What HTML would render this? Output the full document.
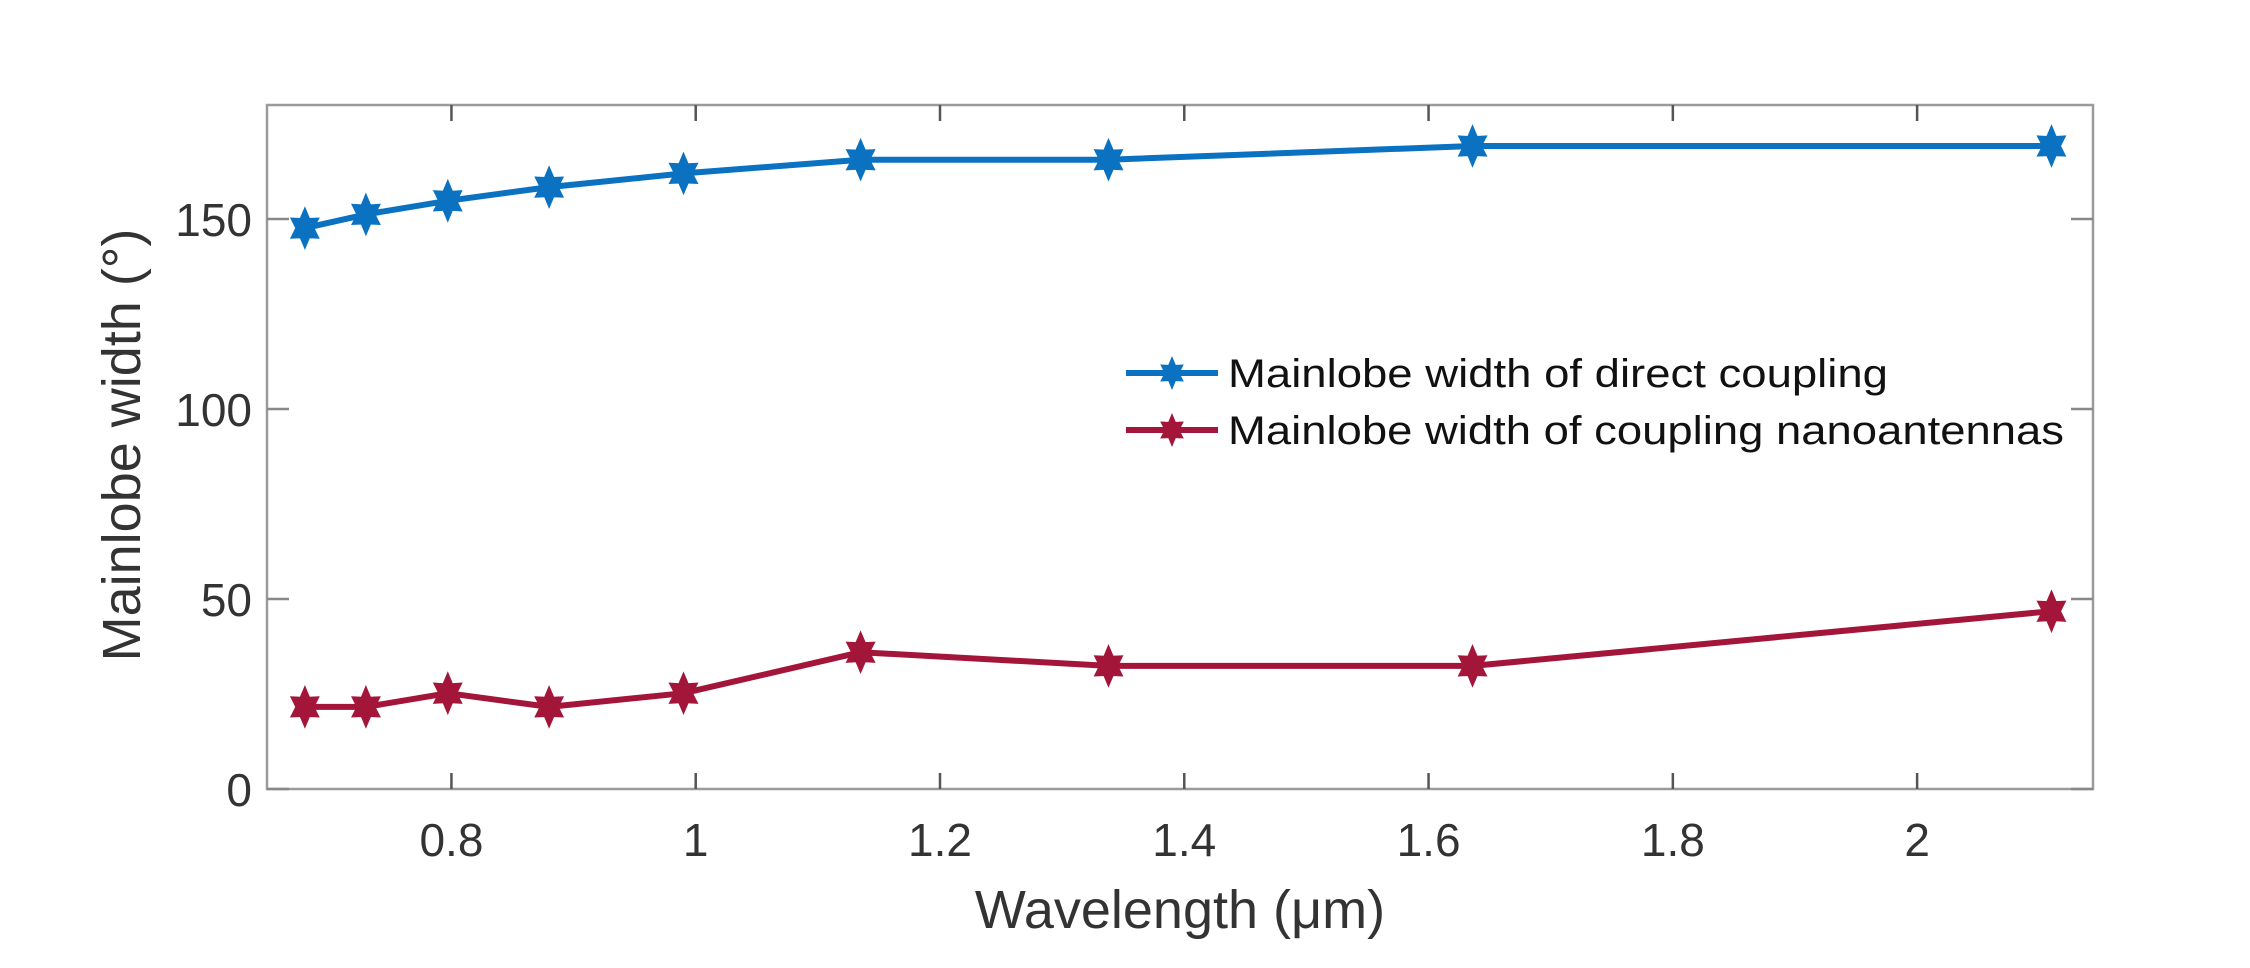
<!DOCTYPE html>
<html><head><meta charset="utf-8"><style>
html,body{margin:0;padding:0;background:#fff;}
svg{display:block;font-family:"Liberation Sans",Arial,sans-serif;}
</style></head><body>
<svg id="chart" width="2250" height="968" viewBox="0 0 2250 968" xmlns="http://www.w3.org/2000/svg">
<g id="axes"></g>
<g id="series"></g>
<g id="legend"></g>
</svg>
<script>
const wavelengths = [0.68, 0.73, 0.797, 0.88, 0.99, 1.135, 1.338, 1.636, 2.11];
const directCoupling = [147.6, 151.2, 154.8, 158.4, 162, 165.6, 165.6, 169.2, 169.2];
const nanoantennaCoupling = [21.6, 21.6, 25.2, 21.6, 25.2, 36, 32.4, 32.4, 46.8];
const xTicks = [0.8, 1, 1.2, 1.4, 1.6, 1.8, 2];
const xTickLabels = ["0.8", "1", "1.2", "1.4", "1.6", "1.8", "2"];
const yTicks = [0, 50, 100, 150];
const yTickLabels = ["0", "50", "100", "150"];

const NS = "http://www.w3.org/2000/svg";
const L = 267, R = 2093, T = 105, B = 789;
const xMin = 0.649, xMax = 2.144, yMin = 0, yMax = 180;
const sx = v => L + (v - xMin) / (xMax - xMin) * (R - L);
const sy = v => B - (v - yMin) / (yMax - yMin) * (B - T);
function mk(tag, attrs, parent) {
  const e = document.createElementNS(NS, tag);
  for (const k in attrs) e.setAttribute(k, attrs[k]);
  parent.appendChild(e);
  return e;
}
function star(cx, cy, r) {
  let p = [];
  for (let i = 0; i < 12; i++) {
    const a = -Math.PI / 2 + i * Math.PI / 6;
    const rr = i % 2 ? r * 0.55 : r;
    p.push((cx + rr * Math.cos(a) * 0.8).toFixed(1) + "," + (cy + rr * Math.sin(a)).toFixed(1));
  }
  return p.join(" ");
}
const axes = document.getElementById("axes");
const box = mk("rect", {x: L, y: T, width: R - L, height: B - T, fill: "none", stroke: "#9a9a9a", "stroke-width": 2.5}, axes);


xTicks.forEach((t, i) => {
  const x = sx(t);
  const tb = mk("line", {x1: x, x2: x, y1: B, y2: B - 16, stroke: "#555", "stroke-width": 2.5}, axes);
  
  
  const tt = mk("line", {x1: x, x2: x, y1: T, y2: T + 16, stroke: "#555", "stroke-width": 2.5}, axes);
  
  
  const lab = mk("text", {x: x, y: 856, "text-anchor": "middle", "font-size": 46, fill: "#333"}, axes);
  lab.textContent = xTickLabels[i];
  
  
});
yTicks.forEach((t, i) => {
  const y = sy(t);
  const tl = mk("line", {x1: L, x2: L + 22, y1: y, y2: y, stroke: "#888", "stroke-width": 2.5}, axes);
  
  
  const tr = mk("line", {x1: R, x2: R - 22, y1: y, y2: y, stroke: "#888", "stroke-width": 2.5}, axes);
  
  
  const lab = mk("text", {x: 252, y: y + 17, "text-anchor": "end", "font-size": 46, fill: "#333"}, axes);
  lab.textContent = yTickLabels[i];
  
  
});
const xt = mk("text", {x: 1180, y: 928, "text-anchor": "middle", "font-size": 54, fill: "#333"}, axes);
xt.textContent = "Wavelength (\u03bcm)";


const yt = mk("text", {x: 0, y: 0, "text-anchor": "middle", "font-size": 54, fill: "#333", transform: "translate(140,445) rotate(-90)"}, axes);
yt.textContent = "Mainlobe width (\u00b0)";



const series = document.getElementById("series");
function drawSeries(vals, color, name) {
  const g = mk("g", {}, series);
  
  
  const pts = wavelengths.map((w, i) => sx(w).toFixed(1) + "," + sy(vals[i]).toFixed(1)).join(" ");
  const pl = mk("polyline", {points: pts, fill: "none", stroke: color, "stroke-width": 6, "stroke-linejoin": "round"}, g);
  
  
  wavelengths.forEach((w, i) => {
    const m = mk("polygon", {points: star(sx(w), sy(vals[i]), 18), fill: color, stroke: color, "stroke-width": 3}, g);
    
    
  });
}
drawSeries(directCoupling, "#0a72c0", "direct-coupling-series");
drawSeries(nanoantennaCoupling, "#a3163a", "nanoantenna-series");

const legend = document.getElementById("legend");
[["Mainlobe width of direct coupling", "#0a72c0", 373, 660], ["Mainlobe width of coupling nanoantennas", "#a3163a", 430, 836]].forEach(([txt, c, y, w]) => {
  const ln = mk("line", {x1: 1126, x2: 1218, y1: y, y2: y, stroke: c, "stroke-width": 6}, legend);
  
  
  const mm = mk("polygon", {points: star(1172, y, 17), fill: c}, legend);
  
  
  const t = mk("text", {x: 1228, y: y + 14, "font-size": 40, fill: "#111", textLength: w, lengthAdjust: "spacingAndGlyphs"}, legend);
  t.textContent = txt;
  
  
});
</script>
</body></html>
